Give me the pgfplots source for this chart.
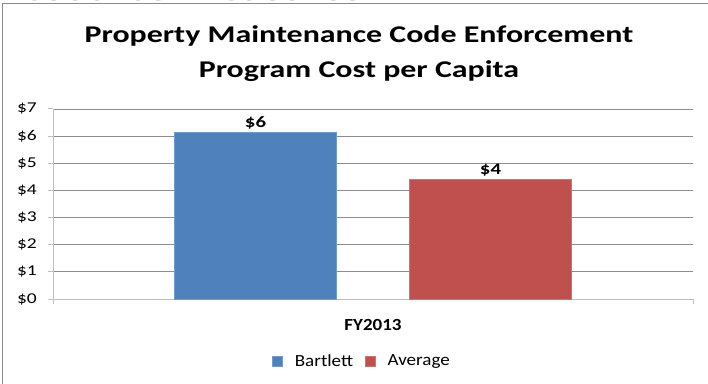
\documentclass[border=0pt]{standalone}
\usepackage{pgfplots}
\pgfplotsset{compat=1.18}
\usepackage{fontspec}
\setmainfont{Carlito}
\definecolor{barblue}{HTML}{4F81BD}
\definecolor{barred}{HTML}{C0504D}
\definecolor{gridc}{HTML}{8C8C8C}
\definecolor{axisc}{HTML}{BFBFBF}
\definecolor{framec}{HTML}{8A8A8A}
\definecolor{headc}{HTML}{5A76A8}
\newcommand{\sx}[1]{\scalebox{1.12}[1]{#1}}
\newcommand{\sxn}[1]{\scalebox{1.3}[1]{#1}}
\newcommand{\sxt}[1]{\scalebox{1.33}[1]{#1}}
\begin{document}
\begin{tikzpicture}
\path[use as bounding box] (0,0) rectangle (708bp,384bp);
\clip (0,0) rectangle (708bp,384bp);
% cut-off heading above the chart
\node[anchor=base west, inner sep=0, text=headc, font=\fontsize{46bp}{50bp}\selectfont] at (-2bp,383bp) {Resource Measures};
% chart frame (cut at right and bottom)
\draw[framec, line width=1.5bp] (2.5bp,0) -- (2.5bp,380.5bp) -- (720bp,380.5bp);
% title
\node[anchor=base, inner sep=0, font=\fontsize{24bp}{28bp}\selectfont\bfseries] at (359bp,341.5bp) {\sxt{Property Maintenance Code Enforcement}};
\node[anchor=base, inner sep=0, font=\fontsize{24bp}{28bp}\selectfont\bfseries] at (359bp,306.5bp) {\sxt{Program Cost per Capita}};
\begin{axis}[
  at={(53bp,85bp)}, anchor=south west,
  scale only axis, width=640bp, height=190bp,
  xmin=-1, xmax=1, ymin=0, ymax=7,
  ytick={0,1,...,7},
  xtick={-1,1}, xticklabels={,},
  /pgf/number format/assume math mode=true,
  ymajorgrids, grid style={gridc, line width=0.8bp},
  axis x line*=bottom, axis y line*=left,
  axis line style={axisc, line width=1bp},
  every tick/.style={axisc, line width=1bp},
  tick align=outside, major tick length=5bp,
  yticklabel={\sxn{\$\pgfmathprintnumber{\tick}}},
  yticklabel style={font=\fontsize{15bp}{18bp}\selectfont, inner sep=0pt, xshift=-11bp},
  ybar, bar width=162bp,
  nodes near coords={\sxn{\$\pgfmathprintnumber[fixed,precision=0,assume math mode=true]{\pgfplotspointmeta}}},
  nodes near coords style={font=\fontsize{16bp}{19bp}\selectfont\bfseries, text=black, anchor=south, inner sep=3bp},
  legend columns=2,
  legend style={draw=none, at={(0.483,-0.326)}, anchor=center, font=\fontsize{17bp}{20bp}\selectfont, column sep=10bp, inner sep=0pt},
  legend image code/.code={\fill[#1] (0bp,-5bp) rectangle (10bp,5bp);},
  clip=false,
]
\addplot[fill=barblue, draw=barblue!80!white, bar shift=-117.5bp] coordinates {(0,6.14)};
\addlegendentry{\sx{Bartlett}}
\addplot[fill=barred, draw=barred!80!white, bar shift=117.5bp] coordinates {(0,4.41)};
\addlegendentry{\sx{Average}}
\end{axis}
\node[anchor=base, inner sep=0, font=\fontsize{17bp}{20bp}\selectfont\bfseries] at (373bp,53bp) {\sx{FY2013}};
\end{tikzpicture}
\end{document}
